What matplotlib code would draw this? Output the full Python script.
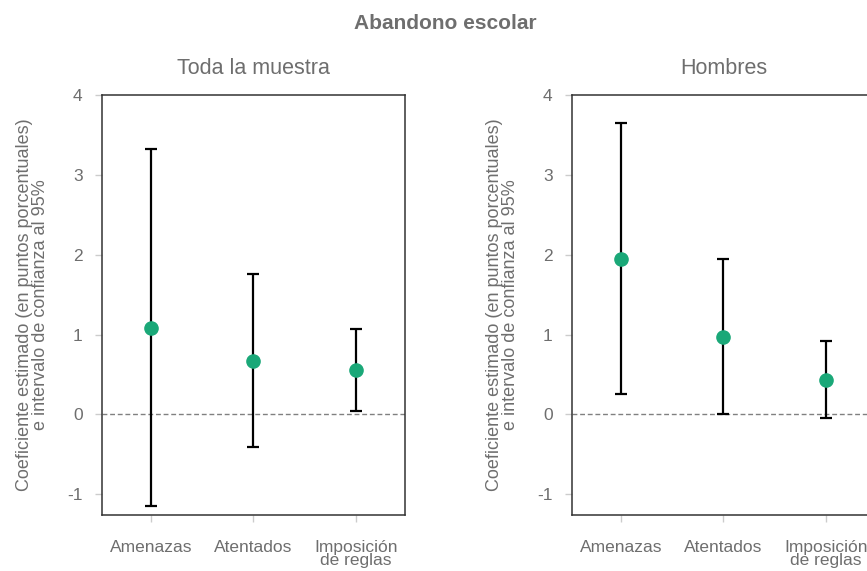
import matplotlib
matplotlib.use("Agg")
import matplotlib.pyplot as plt

# estimated coefficients and 95% CI (percentage points)
categories = ["Amenazas", "Atentados", "Imposición\nde reglas"]

total_est = [1.08, 0.67, 0.555]
total_lo = [-1.15, -0.41, 0.04]
total_hi = [3.32, 1.76, 1.07]

men_est = [1.95, 0.97, 0.435]
men_lo = [0.26, 0.0, -0.05]
men_hi = [3.65, 1.95, 0.915]

panel_titles = ["Toda la muestra", "Hombres"]
y_ticks = [-1, 0, 1, 2, 3, 4]
y_ticklabels = ["-1", "0", "1", "2", "3", "4"]

GREEN = "#1aa878"
GREY = "#6e6e6e"

plt.rcParams["font.family"] = ["Liberation Sans", "DejaVu Sans"]

fig = plt.figure(figsize=(8.67, 5.71), dpi=100)
fig.text(0.514, 0.958, "Abandono escolar", ha="center", va="center",
         fontsize=15, fontweight="bold", color=GREY)

panels = [
    (0.1176, total_est, total_lo, total_hi, panel_titles[0]),
    (0.6597, men_est, men_lo, men_hi, panel_titles[1]),
]
x = [1, 2, 3]
for left, est, lo, hi, title in panels:
    ax = fig.add_axes([left, 0.098, 0.3495, 0.7356])
    yerr = [[e - l for e, l in zip(est, lo)], [h - e for e, h in zip(est, hi)]]
    ax.axhline(0, color="#808080", linestyle=(0, (3.5, 2)), linewidth=1, zorder=1)
    ax.errorbar(x, est, yerr=yerr, fmt="none", ecolor="black", elinewidth=1.6,
                capsize=4.5, capthick=1.6, zorder=2)
    ax.plot(x, est, "o", color=GREEN, markersize=9.5, zorder=3)
    ax.set_xlim(0.52, 3.48)
    ax.set_ylim(-1.26, 4.0)
    ax.set_xticks(x)
    ax.set_xticklabels(categories, linespacing=0.85)
    ax.set_yticks(y_ticks)
    ax.set_yticklabels(y_ticklabels)
    ax.tick_params(axis="both", direction="out", length=5, width=1,
                   color="#cccccc", labelcolor=GREY, labelsize=12.5)
    ax.tick_params(axis="y", pad=9)
    ax.tick_params(axis="x", pad=13)
    for s in ax.spines.values():
        s.set_color("#333333")
        s.set_linewidth(1.1)
    ax.set_ylabel("Coeficiente estimado (en puntos porcentuales)\n"
                  "e intervalo de confianza al 95%",
                  color=GREY, fontsize=13, linespacing=0.95, labelpad=13)
    ax.set_title(title, color=GREY, fontsize=15.5, pad=15)

fig.savefig("out.png", dpi=100)
